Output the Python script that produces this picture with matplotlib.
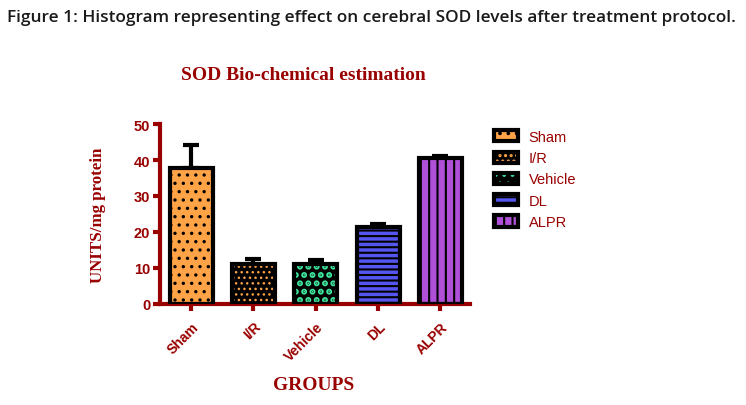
import matplotlib
matplotlib.use("Agg")
import matplotlib.pyplot as plt
from matplotlib.patches import Patch
from matplotlib.legend_handler import HandlerTuple

groups = ["Sham", "I/R", "Vehicle", "DL", "ALPR"]
means = [37.8, 11.1, 11.0, 21.4, 40.6]
errors = [6.5, 1.3, 1.1, 0.8, 0.6]

face = ["#FFA347", "#000000", "#000000", "#5555F0", "#B050D8"]
hatch_col = ["#000000", "#FFA347", "#3FE8A0", "#000000", "#000000"]
hatches = ["..", "...", "..", "---", "||"]
hatch_lw = [1.2, 1.0, 3.0, 1.5, 1.5]

red = "#990000"

fig = plt.figure(figsize=(7.46, 4.06), dpi=100)
ax = fig.add_axes([0.2145, 0.249, 0.416, 0.443])

x = list(range(len(groups)))
for i in x:
    plt.rcParams["hatch.linewidth"] = hatch_lw[i]
    ax.bar(i, means[i], width=0.69, color=face[i], edgecolor=hatch_col[i],
           hatch=hatches[i], linewidth=0, zorder=2)
    ax.bar(i, means[i], width=0.69, facecolor="none", edgecolor="black",
           linewidth=3, zorder=3)
ax.errorbar(x, means, yerr=[[0]*len(errors), errors], fmt="none",
            ecolor="black", elinewidth=3, capsize=6, capthick=3, zorder=1)

ax.set_xlim(-0.5, 4.48)
ax.set_ylim(0, 50)
ax.set_yticks([0, 10, 20, 30, 40, 50])
ax.set_xticks(x)
ax.set_xticklabels(groups, rotation=45, ha="right", rotation_mode="anchor",
                   fontsize=10, fontweight="bold", color=red,
                   family="Liberation Sans")
for t in ax.get_yticklabels():
    t.set_fontsize(10.5)
    t.set_fontweight("bold")
    t.set_color(red)
    t.set_family("Liberation Sans")
ax.tick_params(axis="both", colors=red, width=3, length=5)
ax.tick_params(axis="y", pad=2)
ax.tick_params(axis="x", pad=6)
for s in ["top", "right"]:
    ax.spines[s].set_visible(False)
for s in ["left", "bottom"]:
    ax.spines[s].set_color(red)
    ax.spines[s].set_linewidth(3)

ax.set_ylabel("UNITS/mg protein", family="Liberation Serif", fontweight="bold",
              fontsize=12.2, color=red, labelpad=20)
fig.text(0.42, 0.05, "GROUPS", family="Liberation Serif",
         fontweight="bold", fontsize=14, color=red, ha="center", va="center")
fig.text(0.406, 0.815, "SOD Bio-chemical estimation", family="Liberation Serif",
         fontweight="bold", fontsize=14, color=red, ha="center", va="center")
fig.text(0.009, 0.955,
         "Figure 1: Histogram representing effect on cerebral SOD levels after treatment protocol.",
         family="Open Sans", fontsize=12.4, fontweight="semibold", color="#1a1a1a",
         ha="left", va="center")

handles = []
for i in x:
    plt.rcParams["hatch.linewidth"] = hatch_lw[i]
    handles.append((Patch(facecolor=face[i], edgecolor=hatch_col[i], hatch=hatches[i], linewidth=0),
                    Patch(facecolor="none", edgecolor="black", linewidth=3)))
leg = fig.legend(handles, groups, handler_map={tuple: HandlerTuple(ndivide=1)},
                 loc="upper left", bbox_to_anchor=(0.644, 0.71), frameon=False,
                 prop={"family": "Liberation Sans", "size": 10.5},
                 handlelength=1.7, handleheight=0.8, labelspacing=0.5,
                 handletextpad=0.7)
for t in leg.get_texts():
    t.set_color(red)

fig.savefig("out.png", dpi=100)
